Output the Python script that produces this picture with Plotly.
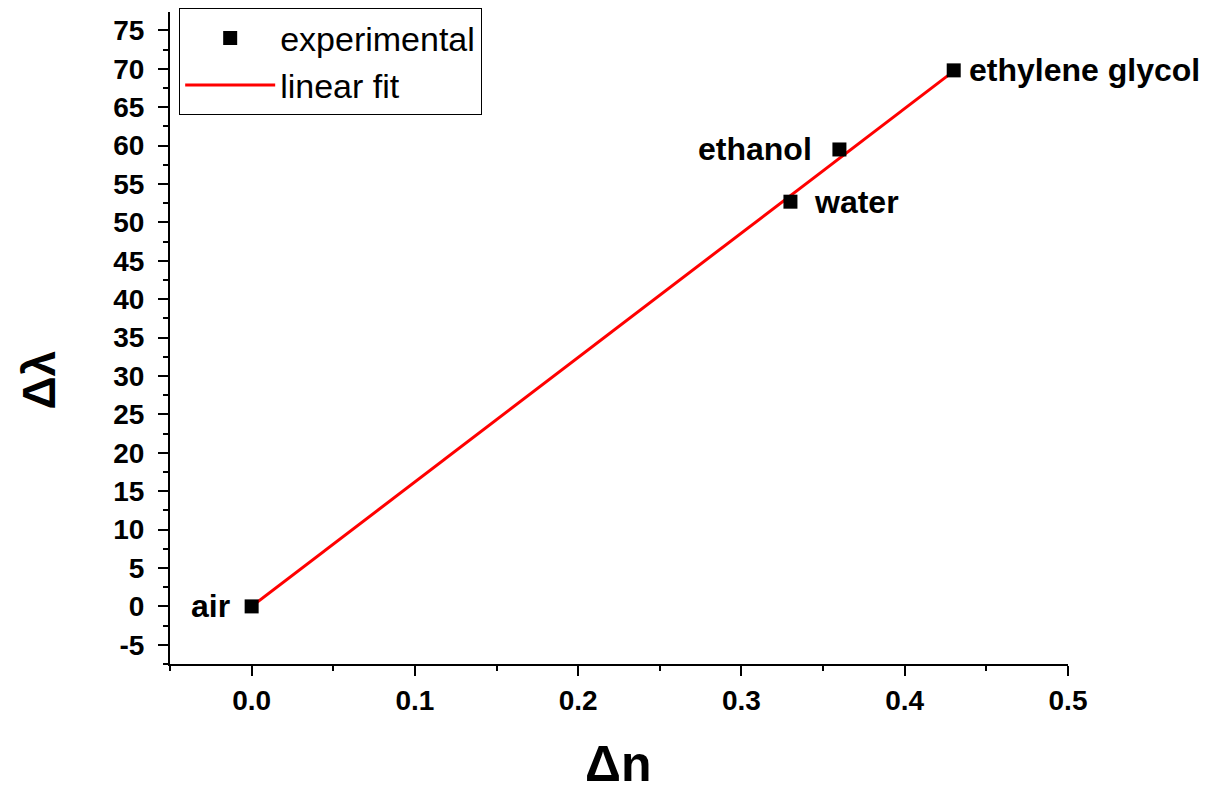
import plotly.graph_objects as go

# data
delta_n = [0.0, 0.33, 0.36, 0.43]
delta_lambda = [0.0, 52.7, 59.5, 69.8]
labels = ["air", "water", "ethanol", "ethylene glycol"]
fit_x = [0.0, 0.43]
fit_y = [0.0, 69.7]
x_title = "Δn"
y_title = "Δλ"
y_tickvals = [-5, 0, 5, 10, 15, 20, 25, 30, 35, 40, 45, 50, 55, 60, 65, 70, 75]
y_ticktext = ["-5", "0", "5", "10", "15", "20", "25", "30", "35", "40",
              "45", "50", "55", "60", "65", "70", "75"]
x_tickvals = [0.0, 0.1, 0.2, 0.3, 0.4, 0.5]
x_ticktext = ["0.0", "0.1", "0.2", "0.3", "0.4", "0.5"]

label_side = ["left", "right", "left", "right"]
label_shift = [-20, 22, -25, 13]
FONT = "Liberation Sans, Arial"

fig = go.Figure()
fig.add_trace(go.Scatter(
    x=fit_x, y=fit_y, mode="lines", name="linear fit",
    line=dict(color="#ff0000", width=3)))
fig.add_trace(go.Scatter(
    x=delta_n, y=delta_lambda, mode="markers", name="experimental",
    marker=dict(symbol="square", size=14, color="black")))

# point labels
for x, y, t, side, sh in zip(delta_n, delta_lambda, labels, label_side, label_shift):
    fig.add_annotation(x=x, y=y, text="<b>%s</b>" % t, showarrow=False,
                       xanchor="right" if side == "left" else "left",
                       xshift=sh, yshift=0,
                       font=dict(family=FONT, size=32, color="black"))

# axis titles
fig.add_annotation(xref="paper", yref="paper", x=0.499, y=-0.153,
                   text="<b>%s</b>" % x_title, showarrow=False,
                   xanchor="center", yanchor="middle",
                   font=dict(family=FONT, size=50, color="black"))
fig.add_annotation(xref="paper", yref="paper", x=-0.146, y=0.436,
                   text="<b>%s</b>" % y_title, showarrow=False, textangle=-90,
                   xanchor="center", yanchor="middle",
                   font=dict(family=FONT, size=46, color="black"))

fig.update_layout(
    width=1200, height=785,
    margin=dict(l=162, r=140, t=4, b=129, autoexpand=False),
    paper_bgcolor="white", plot_bgcolor="white",
    font=dict(family=FONT, color="black"),
    legend=dict(x=0.01, y=1.006, xanchor="left", yanchor="top",
                bordercolor="black", borderwidth=1.2, bgcolor="white",
                font=dict(size=34, family=FONT),
                traceorder="reversed", itemwidth=90, tracegroupgap=0),
    showlegend=True,
)
fig.update_xaxes(
    range=[-0.05, 0.5], tickmode="array", tickvals=x_tickvals, ticktext=x_ticktext,
    showgrid=False, zeroline=False, automargin=False,
    showline=True, linecolor="black", linewidth=2,
    ticks="outside", ticklen=10, tickwidth=2, tickcolor="black",
    minor=dict(ticks="outside", ticklen=5, tickwidth=2, tickcolor="black", dtick=0.05, tick0=0, showgrid=False),
    tickfont=dict(size=28, family=FONT, weight="bold"),
)
fig.update_yaxes(
    range=[-7.5, 77.4], tickmode="array", tickvals=y_tickvals, ticktext=y_ticktext,
    showgrid=False, zeroline=False, automargin=False,
    showline=True, linecolor="black", linewidth=2,
    ticks="outside", ticklen=10, tickwidth=2, tickcolor="black", ticklabelstandoff=8,
    minor=dict(ticks="outside", ticklen=5, tickwidth=2, tickcolor="black", dtick=2.5, tick0=0, showgrid=False),
    tickfont=dict(size=28, family=FONT, weight="bold"),
)

fig.write_html("out.html")
